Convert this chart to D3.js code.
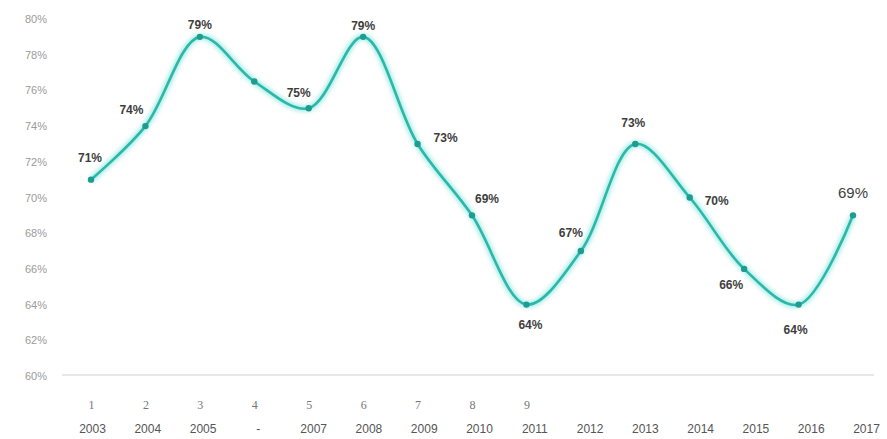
<!DOCTYPE html>
<html>
<head>
<meta charset="utf-8">
<script src="https://cdn.jsdelivr.net/npm/d3@7"></script>
<style>
  body { margin: 0; background: #fff; }
  svg { display: block; font-family: "Liberation Sans", Arial, sans-serif; }
</style>
</head>
<body>
<div id="chart"></div>
<script>
// chart data
const indexLabels = ["1", "2", "3", "4", "5", "6", "7", "8", "9", "", "", "", "", "", ""];
const years = ["2003", "2004", "2005", "-", "2007", "2008", "2009", "2010", "2011", "2012", "2013", "2014", "2015", "2016", "2017"];
const values = [71, 74, 79, 76.5, 75, 79, 73, 69, 64, 67, 73, 70, 66, 64, 69];
const valueLabels = ["71%", "74%", "79%", "", "75%", "79%", "73%", "69%", "64%", "67%", "73%", "70%", "66%", "64%", "69%"];
const yTicks = [60, 62, 64, 66, 68, 70, 72, 74, 76, 78, 80];

// where each data label sits relative to its point
const labelOffsets = [
  [-1, -22], [-14, -16], [0, -12], [0, 0], [-10, -15], [0, -11], [28, -6], [15, -17],
  [4, 20], [-10, -18], [-2, -21], [27, 3], [-13, 16], [-3, 25], [0, -23]
];

const width = 887, height = 439;

const svg = d3.select("#chart").append("svg")
  .attr("width", width)
  .attr("height", height);

const keys = years.map((d, i) => i);

const x = d3.scalePoint().domain(keys).range([91, 853]);
const xYear = d3.scalePoint().domain(keys).range([92, 866]);
const y = d3.scaleLinear().domain([60, 80]).range([376, 19]);

// glow filter for the line
const defs = svg.append("defs");
const glow = defs.append("filter").attr("id", "glow")
  .attr("x", "-10%").attr("y", "-10%").attr("width", "120%").attr("height", "120%");
glow.append("feGaussianBlur").attr("stdDeviation", 2.2);

// y axis
const yAxis = d3.axisLeft(y).tickValues(yTicks).tickFormat(d => d + "%").tickSize(0).tickPadding(0);
svg.append("g")
  .attr("transform", "translate(47,0)")
  .call(yAxis)
  .call(g => g.select(".domain").remove())
  .call(g => g.selectAll("text")
    .attr("fill", "#9b9b9b")
    .attr("font-size", 11)
    .attr("font-family", "Liberation Sans, Arial, sans-serif"));

// baseline
svg.append("line")
  .attr("x1", 62).attr("x2", 874)
  .attr("y1", y(60) - 1).attr("y2", y(60) - 1)
  .attr("stroke", "#e8e8e8")
  .attr("stroke-width", 2);

// x axis rows
const xAxisTop = d3.axisBottom(x).tickFormat(i => indexLabels[i]).tickSize(0).tickPadding(0);
svg.append("g")
  .attr("transform", "translate(0,400)")
  .call(xAxisTop)
  .call(g => g.select(".domain").remove())
  .call(g => g.selectAll("text")
    .attr("fill", "#777")
    .attr("font-size", 12)
    .attr("font-family", "Liberation Serif, serif"));

const xAxisYears = d3.axisBottom(xYear).tickFormat(i => years[i]).tickSize(0).tickPadding(0);
svg.append("g")
  .attr("transform", "translate(0,424)")
  .call(xAxisYears)
  .call(g => g.select(".domain").remove())
  .call(g => g.selectAll("text")
    .attr("fill", "#555")
    .attr("font-size", 12)
    .attr("font-family", "Liberation Sans, Arial, sans-serif"));

// line
const line = d3.line()
  .x((d, i) => x(i))
  .y(d => y(d))
  .curve(d3.curveCatmullRom.alpha(0.5));

svg.append("path")
  .datum(values)
  .attr("fill", "none")
  .attr("stroke", "#7fe3d8")
  .attr("stroke-width", 6)
  .attr("opacity", 0.7)
  .attr("filter", "url(#glow)")
  .attr("d", line);

svg.append("path")
  .datum(values)
  .attr("fill", "none")
  .attr("stroke", "#2bb7a9")
  .attr("stroke-width", 2.6)
  .attr("d", line);

// markers
svg.append("g")
  .selectAll("circle")
  .data(values)
  .join("circle")
  .attr("cx", (d, i) => x(i))
  .attr("cy", d => y(d))
  .attr("r", 3.2)
  .attr("fill", "#1f9c90");

// data labels
svg.append("g")
  .selectAll("text")
  .data(values)
  .join("text")
  .attr("x", (d, i) => x(i) + labelOffsets[i][0])
  .attr("y", (d, i) => y(d) + labelOffsets[i][1])
  .attr("dy", "0.35em")
  .attr("text-anchor", "middle")
  .attr("fill", "#3e3e3e")
  .attr("font-size", (d, i) => i === values.length - 1 ? 15 : 12)
  .attr("font-weight", (d, i) => i === values.length - 1 ? "normal" : "bold")
  .text((d, i) => valueLabels[i]);
</script>
</body>
</html>
